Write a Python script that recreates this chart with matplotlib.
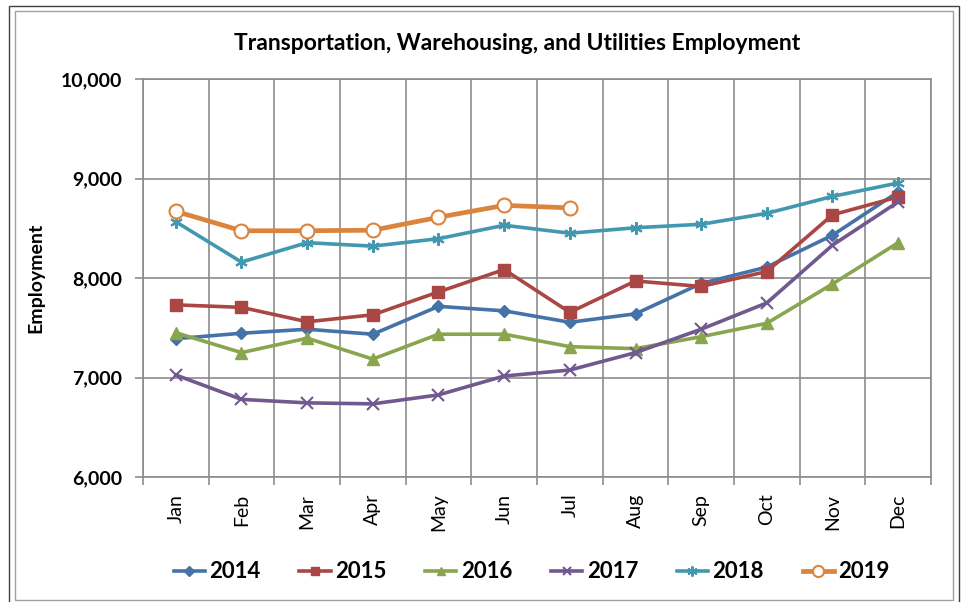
import matplotlib.pyplot as plt
from matplotlib.patches import Rectangle
import numpy as np

months = ['Jan', 'Feb', 'Mar', 'Apr', 'May', 'Jun', 'Jul', 'Aug', 'Sep', 'Oct', 'Nov', 'Dec']
y2014 = [7390, 7445, 7485, 7435, 7715, 7670, 7555, 7640, 7945, 8110, 8430, 8865]
y2015 = [7730, 7705, 7560, 7630, 7860, 8085, 7655, 7970, 7915, 8065, 8635, 8815]
y2016 = [7450, 7250, 7395, 7185, 7435, 7435, 7310, 7290, 7410, 7545, 7940, 8355]
y2017 = [7025, 6780, 6745, 6735, 6825, 7015, 7075, 7250, 7485, 7750, 8330, 8765]
y2018 = [8565, 8160, 8355, 8320, 8395, 8530, 8450, 8505, 8540, 8650, 8820, 8955]
y2019 = [8670, 8475, 8475, 8480, 8610, 8730, 8705]

plt.rcParams['font.family'] = ['Lato', 'DejaVu Sans']

fig = plt.figure(figsize=(9.65, 6.02), dpi=100)
ax = fig.add_axes([143/965, 1-477/602, (931-143)/965, (477-79)/602])

x = np.arange(len(months))
ax.plot(x, y2014, color='#4572A7', lw=2.6, marker='D', ms=6, label='2014')
ax.plot(x, y2015, color='#AA4643', lw=2.6, marker='s', ms=8, label='2015')
ax.plot(x, y2016, color='#89A54E', lw=2.6, marker='^', ms=8, label='2016')
ax.plot(x, y2017, color='#71588F', lw=2.6, marker='x', ms=8, mew=1.5, label='2017')
ax.plot(x, y2018, color='#4198AF', lw=2.6, marker=(6, 2, 0), ms=9, mew=1.5, label='2018')
ax.plot(np.arange(len(y2019)), y2019, color='#DB843D', lw=3.4, marker='o', ms=10,
        mfc='white', mec='#DB843D', mew=1.5, label='2019')

ax.set_xlim(-0.5, 11.5)
ax.set_ylim(6000, 10000)
ax.set_xticks(x)
ax.set_xticklabels(months, rotation=90, fontsize=14)
ax.set_xticks(np.arange(-0.5, 12, 1), minor=True)
ax.tick_params(axis='x', which='major', length=0, pad=12)
ax.tick_params(axis='x', which='minor', length=6, color='#8c8c8c', width=1.2)
ax.set_yticks([6000, 7000, 8000, 9000, 10000])
ax.set_yticklabels(['6,000', '7,000', '8,000', '9,000', '10,000'], fontsize=14, fontweight='bold')
ax.tick_params(axis='y', length=6, color='#8c8c8c', width=1.2, pad=9)
ax.grid(axis='y', color='#8c8c8c', lw=1.2)
ax.grid(axis='x', which='minor', color='#8c8c8c', lw=1.2)
ax.set_axisbelow(True)
for s in ax.spines.values():
    s.set_color('#8c8c8c')
    s.set_linewidth(1.2)

ax.set_ylabel('Employment', fontsize=14, fontweight='bold', labelpad=12)
fig.text(0.536, 1-44/602, 'Transportation, Warehousing, and Utilities Employment',
         ha='center', va='center', fontsize=16.5, fontweight='bold')

fig.legend(loc='center', bbox_to_anchor=(0.551, 1-572/602), ncol=6, frameon=False,
           prop={'weight': 'bold', 'size': 16}, handlelength=1.4, columnspacing=1.75,
           handletextpad=0.2, markerscale=0.8)

fig.patches.append(Rectangle((9/965, -0.01), 950/965, 1-6/602+0.01, transform=fig.transFigure,
                             fill=False, ec='#404040', lw=1.0))
fig.patches.append(Rectangle((15/965, 2/602), 938/965, 1-13/602, transform=fig.transFigure,
                             fill=False, ec='#a0a0a0', lw=1.0))

fig.savefig('out.png', dpi=100)
